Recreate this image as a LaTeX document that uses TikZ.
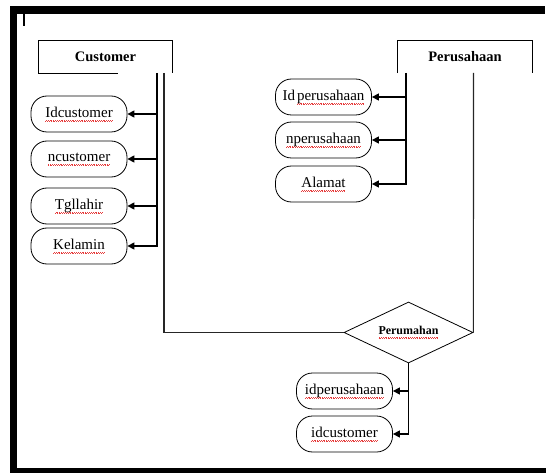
\documentclass[tikz,border=0pt]{standalone}
\usepackage{fontspec}
\setmainfont{Liberation Serif}
\usetikzlibrary{arrows.meta,shapes.geometric}
\definecolor{squig}{RGB}{230,60,60}
\newsavebox\sqbox
\newcommand\sqw[1]{\sbox\sqbox{#1}\rlap{\raisebox{-3.8pt}{\color{squig}\hbox to \wd\sqbox{\xleaders\hbox{\rule{0.7pt}{0.6pt}\raisebox{0.7pt}{\rule{0.7pt}{0.6pt}}\hspace{0.4pt}}\hfill}}}\usebox\sqbox}
\begin{document}
\begin{tikzpicture}[x=1pt,y=1pt,
 attr/.style={draw, rounded corners=16pt, minimum width=96pt, minimum height=36pt, inner sep=0pt, font=\fontsize{15}{18}\selectfont, line width=0.8pt},
 ent/.style={minimum width=133pt, minimum height=32pt, inner sep=0pt, font=\bfseries\fontsize{14.5}{17}\selectfont},
 edgeln/.style={line width=0.7pt},
 conn/.style={line width=1.3pt},
 arr/.style={conn, -{Triangle[length=7pt,width=7pt]}},
 relln/.style={line width=1.1pt, draw=black!85},
 ]
\useasboundingbox (0,0) rectangle (546,-473);
\fill (10,-6) rectangle (545,-14);
\fill (10,-6) rectangle (17,-470);
\fill (10,-468) rectangle (546,-473);
\draw[line width=2pt] (24,-14) -- (24,-26);

% entities
\node[ent] (cust) at (105.5,-57) {Customer};
\draw[edgeln] ([xshift=79pt]cust.south west) -- (cust.south west) -- (cust.north west) -- (cust.north east) -- (cust.south east);
\node[ent, minimum width=134pt] (peru) at (465,-57) {Perusahaan};
\draw[edgeln] (peru.south west) -- (peru.north west) -- (peru.north east) -- (peru.south east);

% relationship
\node[draw, diamond, aspect=2.1, minimum width=129pt, minimum height=61pt, inner sep=0pt, font=\bfseries\fontsize{12}{14}\selectfont, line width=0.8pt] (rel) at (408.5,-332.5) {\raisebox{4pt}{\sqw{Perumahan}}};

% customer attributes
\node[attr] (a1) at (79,-114) {\sqw{Idcustomer}};
\node[attr] (a2) at (79,-159) {\sqw{ncustomer}};
\node[attr] (a3) at (79,-206) {\sqw{Tgllahir}};
\node[attr] (a4) at (79,-246) {\sqw{Kelamin}};
\coordinate (ct) at (157,-73);
\draw[arr] (ct) |- (a4.east);
\draw[arr] (a1.east -| ct) -- (a1.east);
\draw[arr] (a2.east -| ct) -- (a2.east);
\draw[arr] (a3.east -| ct) -- (a3.east);

% perusahaan attributes
\node[attr] (p1) at (323.5,-97) {Id\hspace{2pt}\sqw{perusahaan}};
\node[attr] (p2) at (323.5,-140) {\sqw{nperusahaan}};
\node[attr] (p3) at (323.5,-184) {\sqw{Alamat}};
\coordinate (pt) at (406,-73);
\draw[arr] (pt) |- (p3.east);
\draw[arr] (p1.east -| pt) -- (p1.east);
\draw[arr] (p2.east -| pt) -- (p2.east);

% relationship links
\coordinate (cr) at (164,-73);
\draw[relln] (cr) |- (rel.west);
\coordinate (pr) at (473.5,-73);
\draw[relln] (pr) -- (rel.east);

% relationship attributes
\node[attr] (b1) at (344.5,-391) {\sqw{idperusahaan}};
\node[attr] (b2) at (344.5,-434) {\sqw{idcustomer}};
\draw[arr] (rel.south) |- (b2.east);
\draw[arr] (b1.east -| rel.south) -- (b1.east);
\end{tikzpicture}
\end{document}
